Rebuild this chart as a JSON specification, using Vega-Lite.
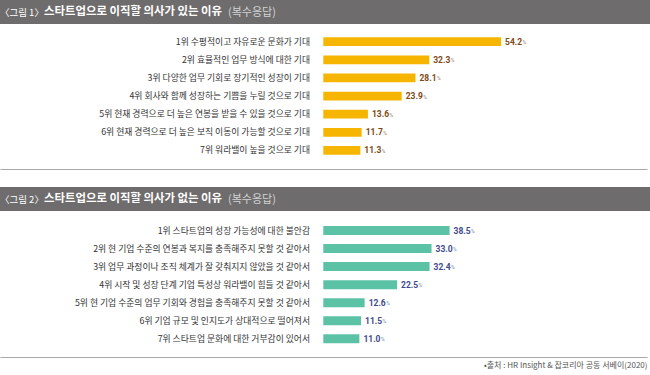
{
  "$schema": "https://vega.github.io/schema/vega-lite/v6.json",
  "padding": 0,
  "spacing": 0,
  "background": "white",
  "config": {
    "view": {"stroke": null},
    "font": "Noto Sans CJK KR",
    "axisX": {"offset": -18, "domain": true, "domainColor": "#a9a9a9", "domainWidth": 1.2, "ticks": false, "labels": false, "grid": false}
  },
  "datasets": {
    "yes": [
      {"rank": 1, "reason": "수평적이고 자유로운 문화가 기대", "value": 54.2},
      {"rank": 2, "reason": "효율적인 업무 방식에 대한 기대", "value": 32.3},
      {"rank": 3, "reason": "다양한 업무 기회로 장기적인 성장이 기대", "value": 28.1},
      {"rank": 4, "reason": "회사와 함께 성장하는 기쁨을 누릴 것으로 기대", "value": 23.9},
      {"rank": 5, "reason": "현재 경력으로 더 높은 연봉을 받을 수 있을 것으로 기대", "value": 13.6},
      {"rank": 6, "reason": "현재 경력으로 더 높은 보직 이동이 가능할 것으로 기대", "value": 11.7},
      {"rank": 7, "reason": "워라밸이 높을 것으로 기대", "value": 11.3}
    ],
    "no": [
      {"rank": 1, "reason": "스타트업의 성장 가능성에 대한 불안감", "value": 38.5},
      {"rank": 2, "reason": "현 기업 수준의 연봉과 복지를 충족해주지 못할 것 같아서", "value": 33.0},
      {"rank": 3, "reason": "업무 과정이나 조직 체계가 잘 갖춰지지 않았을 것 같아서", "value": 32.4},
      {"rank": 4, "reason": "시작 및 성장 단계 기업 특성상 워라밸이 힘들 것 같아서", "value": 22.5},
      {"rank": 5, "reason": "현 기업 수준의 업무 기회와 경험을 충족해주지 못할 것 같아서", "value": 12.6},
      {"rank": 6, "reason": "기업 규모 및 인지도가 상대적으로 떨어져서", "value": 11.5},
      {"rank": 7, "reason": "스타트업 문화에 대한 거부감이 있어서", "value": 11.0}
    ],
    "head1": [{"fig": "〈그림 1〉", "title": "스타트업으로 이직할 의사가 있는 이유", "note": "(복수응답)"}],
    "head2": [{"fig": "〈그림 2〉", "title": "스타트업으로 이직할 의사가 없는 이유", "note": "(복수응답)"}]
  },
  "vconcat": [
    {
      "width": 650, "height": 24,
      "view": {"fill": "#6e6c6c", "stroke": null},
      "data": {"name": "head1"},
      "layer": [
        {"mark": {"type": "text", "align": "left", "baseline": "middle", "fontSize": 9.5, "color": "white"},
         "encoding": {"x": {"value": 0}, "y": {"value": 12.5}, "text": {"field": "fig"}}},
        {"mark": {"type": "text", "align": "left", "baseline": "middle", "fontSize": 11.4, "fontWeight": "bold", "color": "white"},
         "encoding": {"x": {"value": 44}, "y": {"value": 12}, "text": {"field": "title"}}},
        {"mark": {"type": "text", "align": "left", "baseline": "middle", "fontSize": 11, "color": "#d4d4d4"},
         "encoding": {"x": {"value": 228}, "y": {"value": 12.5}, "text": {"field": "note"}}}
      ]
    },
    {
      "width": 650, "height": 163,
      "data": {"name": "yes"},
      "transform": [{"calculate": "datum.rank + '위 ' + datum.reason", "as": "label"}],
      "encoding": {
        "y": {"field": "rank", "type": "ordinal", "axis": null,
              "scale": {"range": [8.65, 135.5], "paddingInner": 0.52, "paddingOuter": 0.26}}
      },
      "layer": [
        {"mark": {"type": "bar", "color": "#f6b500"},
         "encoding": {"x": {"field": "value", "type": "quantitative", "title": null,
                            "scale": {"domain": [-98.57, 98.69], "range": [0, 647], "nice": false, "zero": false}}}},
        {"mark": {"type": "text", "align": "right", "baseline": "middle", "dx": -13.3, "fontSize": 8.8, "color": "#333333"},
         "encoding": {"x": {"datum": 0, "type": "quantitative", "title": null}, "text": {"field": "label"}}},
        {"mark": {"type": "text", "align": "left", "baseline": "middle", "dx": 4, "fontSize": 8.5, "fontWeight": "bold", "font": "Roboto", "color": "#7b4a14"},
         "encoding": {"x": {"field": "value", "type": "quantitative", "title": null}, "text": {"field": "value", "type": "quantitative", "format": ".1f"}}},
        {"mark": {"type": "text", "align": "left", "baseline": "middle", "dx": 21.5, "dy": 0.5, "fontSize": 5, "font": "Roboto", "color": "#9a7a5a"},
         "encoding": {"x": {"field": "value", "type": "quantitative", "title": null}, "text": {"value": "%"}}}
      ]
    },
    {
      "width": 650, "height": 24,
      "view": {"fill": "#6e6c6c", "stroke": null},
      "data": {"name": "head2"},
      "layer": [
        {"mark": {"type": "text", "align": "left", "baseline": "middle", "fontSize": 9.5, "color": "white"},
         "encoding": {"x": {"value": 0}, "y": {"value": 12.5}, "text": {"field": "fig"}}},
        {"mark": {"type": "text", "align": "left", "baseline": "middle", "fontSize": 11.4, "fontWeight": "bold", "color": "white"},
         "encoding": {"x": {"value": 44}, "y": {"value": 12}, "text": {"field": "title"}}},
        {"mark": {"type": "text", "align": "left", "baseline": "middle", "fontSize": 11, "color": "#d4d4d4"},
         "encoding": {"x": {"value": 228}, "y": {"value": 12.5}, "text": {"field": "note"}}}
      ]
    },
    {
      "width": 650, "height": 164,
      "data": {"name": "no"},
      "transform": [{"calculate": "datum.rank + '위 ' + datum.reason", "as": "label"}],
      "encoding": {
        "y": {"field": "rank", "type": "ordinal", "axis": null,
              "scale": {"range": [10.5, 136.8], "paddingInner": 0.5, "paddingOuter": 0.25}}
      },
      "layer": [
        {"mark": {"type": "bar", "color": "#5cc2a6"},
         "encoding": {"x": {"field": "value", "type": "quantitative", "title": "•출처 : HR Insight & 잡코리아 공동 서베이(2020)",
                            "scale": {"domain": [-98.57, 98.69], "range": [0, 647], "nice": false, "zero": false},
                            "axis": {"titleAnchor": "end", "titleAlign": "right", "titlePadding": 4, "titleFontSize": 8, "titleFontWeight": "normal", "titleColor": "#555555", "titleFont": "Noto Sans CJK KR"}}}},
        {"mark": {"type": "text", "align": "right", "baseline": "middle", "dx": -13.3, "fontSize": 8.8, "color": "#333333"},
         "encoding": {"x": {"datum": 0, "type": "quantitative"}, "text": {"field": "label"}}},
        {"mark": {"type": "text", "align": "left", "baseline": "middle", "dx": 4, "fontSize": 8.5, "fontWeight": "bold", "font": "Roboto", "color": "#3d4a8c"},
         "encoding": {"x": {"field": "value", "type": "quantitative"}, "text": {"field": "value", "type": "quantitative", "format": ".1f"}}},
        {"mark": {"type": "text", "align": "left", "baseline": "middle", "dx": 21.5, "dy": 0.5, "fontSize": 5, "font": "Roboto", "color": "#7a80a8"},
         "encoding": {"x": {"field": "value", "type": "quantitative"}, "text": {"value": "%"}}}
      ]
    }
  ]
}
